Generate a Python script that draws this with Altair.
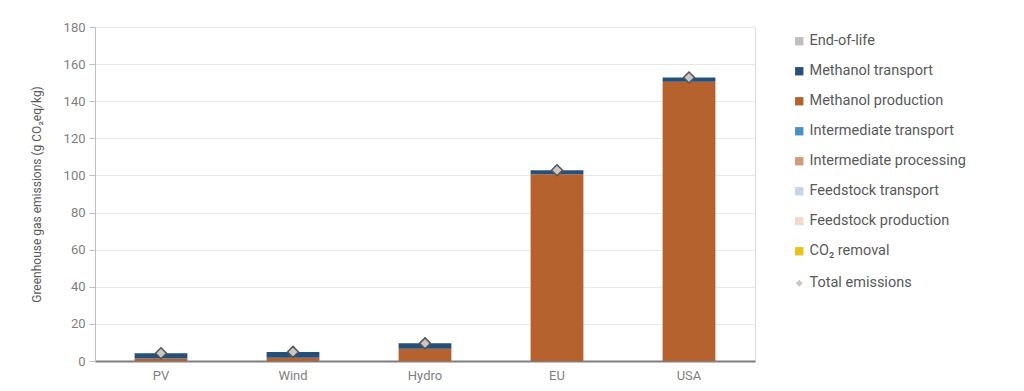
import altair as alt
import pandas as pd

categories = ["PV", "Wind", "Hydro", "EU", "USA"]
stages = [
    "End-of-life",
    "Methanol transport",
    "Methanol production",
    "Intermediate transport",
    "Intermediate processing",
    "Feedstock transport",
    "Feedstock production",
    "CO₂ removal",
]
stage_colors = ["#bfbfbf", "#26507a", "#b5622f", "#4a90c4", "#d39a78",
                "#c6d4e8", "#f3d9cc", "#e8c21a"]

methanol_production = [1.3, 1.7, 6.6, 100.6, 150.5]
methanol_transport = [2.9, 3.2, 2.9, 2.2, 2.3]
total_emissions = [4.2, 4.9, 9.5, 102.8, 152.8]
y_ticks = [0, 20, 40, 60, 80, 100, 120, 140, 160, 180]

rows = []
for i, c in enumerate(categories):
    rows.append({"cat": c, "stage": "Methanol production", "value": methanol_production[i], "ord": 1})
    rows.append({"cat": c, "stage": "Methanol transport", "value": methanol_transport[i], "ord": 2})
df = pd.DataFrame(rows)
tot = pd.DataFrame({"cat": categories, "total": total_emissions, "lbl": ["Total emissions"] * 5})

font = "Roboto"

def xenc():
    return alt.X("cat:N", sort=categories, title=None,
                 scale=alt.Scale(paddingInner=0.6, paddingOuter=0.3),
                 axis=alt.Axis(labelAngle=0, ticks=False, labelFontSize=13, labelColor="#7f7f7f",
                               labelFont=font, labelPadding=8, domainColor="#7f7f7f", domainWidth=2,
                               grid=False))

def yaxis():
    return alt.Axis(values=y_ticks, labelOverlap=False, labelFontSize=13, labelColor="#7f7f7f",
                    labelFont=font, titleFont=font, titleFontSize=12, titleColor="#595959",
                    titleFontWeight="normal", titlePadding=20, tickSize=6, tickColor="#bfbfbf",
                    domainColor="#bfbfbf", gridColor="#e8e8e8", labelPadding=4)

ytitle = "Greenhouse gas emissions (g CO₂eq/kg)"

bars = alt.Chart(df).mark_bar().encode(
    x=xenc(),
    y=alt.Y("value:Q", stack="zero", scale=alt.Scale(domain=[0, 180]), title=ytitle, axis=yaxis()),
    color=alt.Color("stage:N", scale=alt.Scale(domain=stages, range=stage_colors),
                    legend=alt.Legend(title=None, orient="none", legendX=697, legendY=7,
                                      symbolType="square", symbolSize=70, rowPadding=15,
                                      labelFontSize=14.5, labelColor="#595959", labelFont=font,
                                      labelOffset=3, symbolStrokeWidth=0)),
    order=alt.Order("ord:Q"),
)

pts = alt.Chart(tot).mark_point(shape="diamond", filled=False, size=120, fill="#c8c8c8",
                                stroke="#555555", strokeWidth=1.5, opacity=1, fillOpacity=1).encode(
    x=xenc(),
    y=alt.Y("total:Q", scale=alt.Scale(domain=[0, 180]), title=ytitle, axis=yaxis()),
    shape=alt.Shape("lbl:N", scale=alt.Scale(range=["diamond"]),
                    legend=alt.Legend(title=None, orient="none", legendX=697, legendY=249,
                                      symbolSize=50, symbolFillColor="#ffffff",
                                      symbolStrokeColor="#555555", symbolStrokeWidth=2,
                                      labelFontSize=14.5, labelColor="#595959", labelFont=font,
                                      labelOffset=3)),
)

chart = alt.layer(bars, pts).properties(
    width=660, height=334,
    autosize=alt.AutoSizeParams(type="none"),
    padding={"left": 87, "top": 19, "right": 255, "bottom": 26},
).configure_view(strokeWidth=0, stroke="transparent").configure(background="white")

chart.save("out.html", embed_options={"renderer": "svg", "actions": False})
